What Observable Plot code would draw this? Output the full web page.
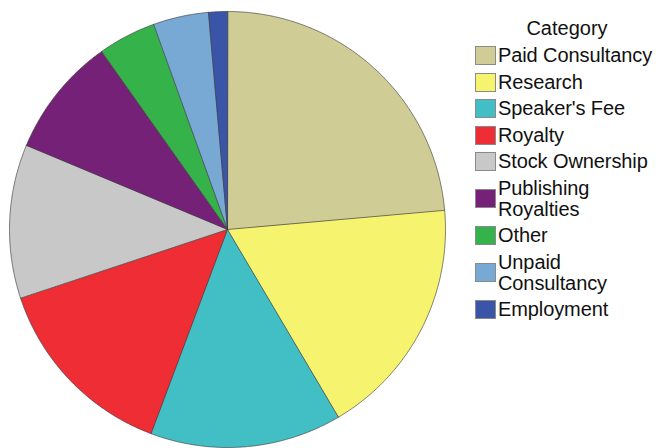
<!DOCTYPE html>
<html>
<head>
<meta charset="utf-8">
<script src="https://cdn.jsdelivr.net/npm/d3@7"></script>
<script src="https://cdn.jsdelivr.net/npm/@observablehq/plot@0.6"></script>
<style>
  html, body { margin: 0; padding: 0; background: #fff; }
  #wrap { position: relative; width: 658px; height: 448px; overflow: hidden; font-family: "Liberation Sans", Arial, Helvetica, sans-serif; }
  #chart { position: absolute; left: 0; top: 0; }
  #legend-title { position: absolute; left: 467px; width: 200px; top: 15px; text-align: center; font-size: 20px; line-height: 26px; color: #111; }
  #legend { position: absolute; left: 475px; top: 45px; }
  .item { display: flex; align-items: center; margin-bottom: 5.5px; }
  .sw { width: 19px; height: 17px; border: 1px solid #8a8a8a; flex: none; margin-right: 2px; }
  .lab { font-size: 20px; line-height: 21px; color: #111; letter-spacing: -0.1px; }
</style>
</head>
<body>
<div id="wrap">
  <div id="chart"></div>
  <div id="legend-title">Category</div>
  <div id="legend"></div>
</div>
<script>
const categories = ["Paid Consultancy", "Research", "Speaker's Fee", "Royalty", "Stock Ownership", "Publishing Royalties", "Other", "Unpaid Consultancy", "Employment"];
const legendLabels = [["Paid Consultancy"], ["Research"], ["Speaker's Fee"], ["Royalty"], ["Stock Ownership"], ["Publishing", "Royalties"], ["Other"], ["Unpaid", "Consultancy"], ["Employment"]];
const shares = [23.6, 17.9, 14.2, 14.2, 11.4, 8.9, 4.3, 4.1, 1.4];
const colors = ["#d0cc96", "#f6f46e", "#42bfc4", "#ee2d35", "#c8c8c8", "#752177", "#35b34a", "#78a8d4", "#3a55a8"];

const arcs = d3.pie().sort(null).value(d => d.share)(categories.map((c, i) => ({category: c, share: shares[i]})));
const pts = [];
for (const a of arcs) {
  const c = a.data.category;
  pts.push({category: c, x: 0, y: 0});
  const n = Math.max(2, Math.ceil((a.endAngle - a.startAngle) / (Math.PI / 360)));
  for (let k = 0; k <= n; k++) {
    const t = a.startAngle + (a.endAngle - a.startAngle) * k / n;
    pts.push({category: c, x: Math.sin(t), y: Math.cos(t)});
  }
}

const chart = Plot.plot({
  width: 460,
  height: 448,
  marginLeft: 9,
  marginRight: 15,
  marginTop: 11,
  marginBottom: 1,
  x: {domain: [-1, 1], axis: null},
  y: {domain: [-1, 1], axis: null},
  color: {domain: categories, range: colors},
  marks: [
    Plot.line(pts, {x: "x", y: "y", z: "category", fill: "category", stroke: "#3a3a3a", strokeWidth: 0.7, strokeOpacity: 0.9, curve: "linear-closed"})
  ]
});
document.getElementById("chart").appendChild(chart);

const leg = document.getElementById("legend");
categories.forEach((c, i) => {
  const item = document.createElement("div");
  item.className = "item";
  const sw = document.createElement("div");
  sw.className = "sw";
  sw.style.background = colors[i];
  const lab = document.createElement("div");
  lab.className = "lab";
  lab.innerHTML = legendLabels[i].join("<br>");
  item.appendChild(sw);
  item.appendChild(lab);
  leg.appendChild(item);
});
</script>
</body>
</html>
